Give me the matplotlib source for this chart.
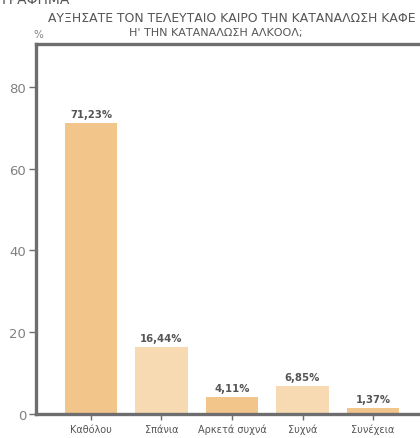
import matplotlib
matplotlib.use('Agg')
import matplotlib.pyplot as plt

# Δεδομένα
categories = ['Καθόλου', 'Σπάνια', 'Αρκετά συχνά', 'Συχνά', 'Συνέχεια']
values = [71.23, 16.44, 4.11, 6.85, 1.37]
labels = ['71,23%', '16,44%', '4,11%', '6,85%', '1,37%']
colors = ['#F2C58A', '#F8DAB2', '#F2C58A', '#F8DAB2', '#F2C58A']

plt.rcParams['font.family'] = ['DejaVu Sans']
gray = '#6E6E70'
text_gray = '#555558'

fig = plt.figure(figsize=(4.2, 4.39), dpi=100)
ax = fig.add_axes([36 / 420, 24 / 439, 392 / 420, 370 / 439])

x = range(len(categories))
ax.bar(x, values, width=0.74, color=colors, zorder=2)
for i, v in enumerate(values):
    ax.text(i, v + 1.0, labels[i], ha='center', va='bottom',
            fontsize=7.3, fontweight='bold', color=text_gray)

ax.set_xlim(-0.78, 4.78)
ax.set_ylim(0, 90.5)
ax.set_yticks([0, 20, 40, 60, 80])
ax.set_xticks(list(x))
ax.set_xticklabels(categories, fontsize=7, color=text_gray)
ax.tick_params(axis='y', labelsize=9.5, labelcolor='#808083', color=gray,
               length=5, width=1, pad=2)
ax.tick_params(axis='x', color=gray, length=4, width=1, pad=3)

for s in ['left', 'bottom', 'top', 'right']:
    ax.spines[s].set_color(gray)
    ax.spines[s].set_linewidth(2.4)

# Τίτλος (κομμένος δεξιά όπως στο πρωτότυπο)
fig.text(48 / 420, 1 - 18 / 439, 'ΑΥΞΗΣΑΤΕ ΤΟΝ ΤΕΛΕΥΤΑΙΟ ΚΑΙΡΟ ΤΗΝ ΚΑΤΑΝΑΛΩΣΗ ΚΑΦΕ',
         ha='left', va='center', fontsize=8.9, color=text_gray)
fig.text(216 / 420, 1 - 33 / 439, "Η' ΤΗΝ ΚΑΤΑΝΑΛΩΣΗ ΑΛΚΟΟΛ;",
         ha='center', va='center', fontsize=8, color=text_gray)
fig.text(33 / 420, 1 - 35 / 439, '%', ha='left', va='center',
         fontsize=7.5, color='#808083')
fig.text(2 / 420, 1 - 4 / 439, 'ΓΡΑΦΗΜΑ', ha='left', va='baseline',
         fontsize=10, color=text_gray)

fig.savefig('out.png', dpi=100)
